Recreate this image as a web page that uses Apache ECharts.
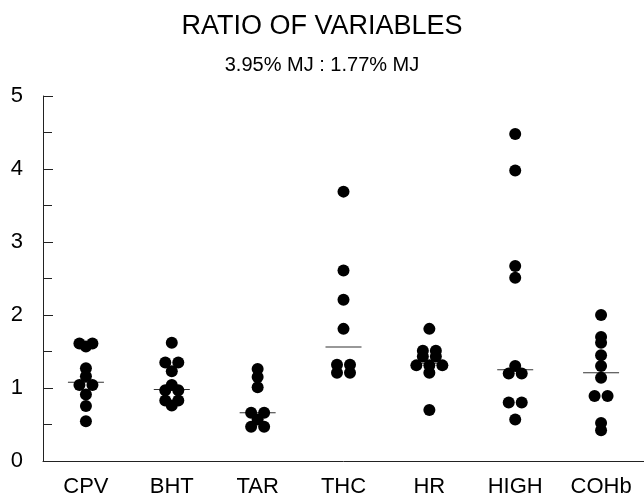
<!DOCTYPE html>
<html>
<head>
<meta charset="utf-8">
<script src="https://cdn.jsdelivr.net/npm/echarts@6/dist/echarts.min.js"></script>
<style>
  html, body { margin: 0; padding: 0; background: #fff; }
  #chart { width: 644px; height: 499px; }
</style>
</head>
<body>
<div id="chart"></div>
<script>
// categories along the x axis
const categories = ["CPV", "BHT", "TAR", "THC", "HR", "HIGH", "COHb"];
// y axis ticks
const yTicks = [0, 1, 2, 3, 4, 5];

// ratio values for each variable
const cpv = [1.61, 1.61, 1.57, 1.27, 1.16, 1.04, 1.04, 0.91, 0.755, 0.545];
const bht = [1.62, 1.35, 1.35, 1.23, 1.04, 0.97, 0.97, 0.83, 0.83, 0.76];
const tar = [1.26, 1.15, 1.01, 0.66, 0.66, 0.57, 0.47, 0.47];
const thc = [3.69, 2.61, 2.21, 1.81, 1.32, 1.32, 1.21, 1.21];
const hr = [1.81, 1.51, 1.51, 1.43, 1.43, 1.31, 1.31, 1.31, 1.21, 0.7];
const high = [4.48, 3.98, 2.67, 2.51, 1.3, 1.2, 1.2, 0.8, 0.8, 0.57];
const cohb = [2.0, 1.7, 1.62, 1.45, 1.3, 1.14, 0.89, 0.89, 0.52, 0.42];
// short horizontal line drawn in each column
const centres = [1.08, 0.98, 0.66, 1.56, 1.34, 1.25, 1.21];

const groups = [cpv, bht, tar, thc, hr, high, cohb];

// dots with the same value sit side by side, spread round the column centre
const GAP = 13;
const dots = [];
groups.forEach(function (vals, ci) {
  const seen = {};
  vals.forEach(function (v) {
    seen[v] = (seen[v] || 0) + 1;
  });
  const used = {};
  vals.forEach(function (v) {
    const n = seen[v];
    const i = used[v] || 0;
    used[v] = i + 1;
    dots.push({
      value: [categories[ci], v],
      symbolOffset: [(i - (n - 1) / 2) * GAP, 0],
    });
  });
});

const chart = echarts.init(document.getElementById("chart"));
const font = "Liberation Sans";

chart.setOption({
  backgroundColor: "#fff",
  animation: false,
  title: {
    text: "RATIO OF VARIABLES",
    subtext: "3.95% MJ : 1.77% MJ",
    left: "center",
    top: 8,
    itemGap: 15,
    textStyle: { fontFamily: font, fontSize: 27, fontWeight: "normal", color: "#000" },
    subtextStyle: { fontFamily: font, fontSize: 20, color: "#000" },
  },
  grid: { left: 43, right: -1, top: 96, bottom: 38 },
  xAxis: {
    type: "category",
    data: categories,
    boundaryGap: true,
    axisLine: { lineStyle: { color: "#222", width: 1 } },
    axisTick: { alignWithLabel: true, inside: true, length: 11, lineStyle: { color: "#222" } },
    axisLabel: { fontFamily: font, fontSize: 22, color: "#000", margin: 15 },
    splitLine: { show: false },
  },
  yAxis: {
    type: "value",
    min: yTicks[0],
    max: yTicks[yTicks.length - 1],
    interval: 1,
    axisLine: { show: true, lineStyle: { color: "#222", width: 1 } },
    axisTick: { show: true, inside: true, length: 10, lineStyle: { color: "#222" } },
    minorTick: { show: true, splitNumber: 2, length: 9, lineStyle: { color: "#222" } },
    axisLabel: { fontFamily: font, fontSize: 22, color: "#000", margin: 20 },
    splitLine: { show: false },
  },
  series: [
    {
      type: "scatter",
      z: 2,
      symbol: "rect",
      symbolSize: [36, 1],
      itemStyle: { color: "#333", opacity: 1 },
      data: centres.map(function (v, i) {
        return [categories[i], v];
      }),
    },
    {
      type: "scatter",
      z: 3,
      symbol: "circle",
      symbolSize: 12,
      itemStyle: { color: "#000", opacity: 1 },
      data: dots,
    },
  ],
});
</script>
</body>
</html>
